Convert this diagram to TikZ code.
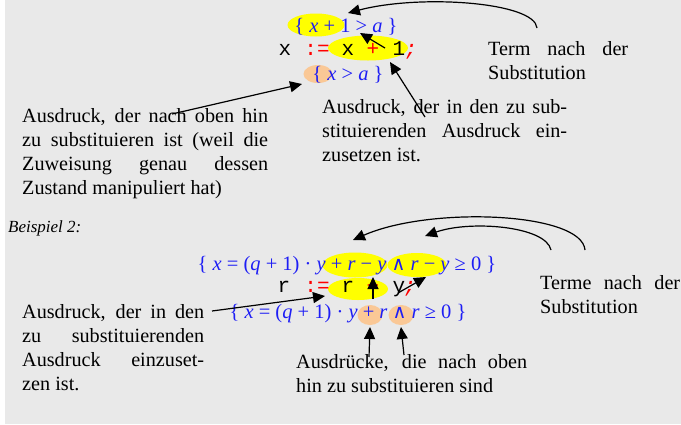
\documentclass[tikz,border=0pt]{standalone}
\usepackage{fontspec}
\setmainfont{Liberation Serif}
\setmonofont{Liberation Mono}
\newfontfamily\symfnt{DejaVu Serif}
\usetikzlibrary{positioning, arrows.meta, shapes.geometric}

\definecolor{bggray}{RGB}{233,233,233}
\definecolor{condblue}{RGB}{30,30,245}
\definecolor{hlyellow}{RGB}{255,255,0}
\definecolor{hlorange}{RGB}{250,200,150}
\definecolor{opred}{RGB}{255,0,0}

\newcommand{\mv}[1]{\textit{#1}}
\newcommand{\mand}{{\symfnt\fontsize{19}{19}\selectfont ∧}}

\begin{document}
\begin{tikzpicture}[
    x=1pt, y=-1pt,
    hl/.style={ellipse, fill=hlyellow, inner sep=0pt},
    hlo/.style={ellipse, fill=hlorange, inner sep=0pt},
    cond/.style={text=condblue, font=\fontsize{20.5}{24}\selectfont,
                 inner sep=0pt, anchor=base},
    code/.style={font=\fontsize{21}{24}\selectfont\ttfamily,
                 inner sep=0pt, anchor=base},
    note/.style={align=justify, inner sep=0pt, anchor=north west,
                 font=\fontsize{20.2}{24}\selectfont},
    arr/.style={-{Triangle[length=12pt, width=11pt]}, line width=1.2pt},
  ]

\useasboundingbox (0,0) rectangle (681,424);
\fill[bggray] (5,0) rectangle (681,424);

% Beispiel 1
\node[hl, minimum width=57pt, minimum height=23pt] (postA) at (316,25) {};
\node[hl, minimum width=80pt, minimum height=25pt] (rhsA) at (368,48) {};
\node[hlo, minimum width=29pt, minimum height=18pt] (preA) at (318,74) {};

\node[cond] (condA1) at (346,32) {\{ \mv{x} + 1 > \mv{a} \}};
\node[code] (lhsA) at (285,55) {x};
\node[code, text=opred] (asgA) at (317,55) {:=};
\node[code] (varA) at (348,55) {x};
\node[code, text=opred] (plusA) at (373,55) {+};
\node[code] (oneA) at (399,55) {1};
\node[code, text=opred] (semA) at (411,55) {\itshape ;};
\node[cond] (condA2) at (348,80) {\{ \mv{x} > \mv{a} \}};

\node[note, text width=140pt] (termA) at (488,41)
    {Term nach der\linebreak Substitution};
\node[note, text width=246pt] (leftA) at (22,108)
    {Ausdruck, der nach oben hin\linebreak zu substituieren ist (weil die\linebreak
     Zuweisung genau dessen\linebreak Zustand manipuliert hat)};
\node[note, text width=245pt] (midA) at (322,99)
    {Ausdruck, der in den zu sub-\linebreak stituierenden Ausdruck ein-\linebreak
     zusetzen ist.};

\coordinate (termA-hook) at (537,28);
\coordinate (postA-in) at (348,13);
\coordinate (oneA-out) at (385,48);
\coordinate (postA-one) at (360,33);
\coordinate (midA-out) at (425,117);
\coordinate (rhsA-in) at (390,62);
\coordinate (leftA-out) at (172,114);
\coordinate (preA-in) at (302,84);

\draw[arr] (termA-hook) .. controls (535,2) and (420,-6) .. (postA-in);
\draw[arr] (oneA-out) -- (postA-one);
\draw[arr] (midA-out) -- (rhsA-in);
\draw[arr] (leftA-out) -- (preA-in);

% Beispiel 2
\node[anchor=base west, inner sep=0pt, font=\fontsize{17}{20}\selectfont\itshape]
    (bspB) at (8,232) {Beispiel 2:};

\node[hl, minimum width=65pt, minimum height=25pt] (postB1) at (355,265) {};
\node[hl, minimum width=59pt, minimum height=24pt] (postB2) at (417,265) {};
\node[hl, minimum width=60pt, minimum height=22pt] (rhsB) at (358,289) {};
\node[hlo, minimum width=25pt, minimum height=20pt] (preB1) at (370,315) {};
\node[hlo, minimum width=25pt, minimum height=20pt] (preB2) at (401,315) {};

\node[cond] (condB1) at (347,270)
    {\{ \mv{x} = (\mv{q} + 1) · \mv{y} + \mv{r} − \mv{y} \mand{} \mv{r} − \mv{y} ≥ 0 \}};
\node[code] (lhsB) at (284,292) {r};
\node[code, text=opred] (asgB) at (317,292) {:=};
\node[code] (varB) at (348,292) {r};
\node[code, text=opred] (plusB) at (373,292) {+};
\node[code] (yB) at (399,292) {y};
\node[code, text=opred] (semB) at (410,292) {\itshape ;};
\node[cond] (condB2) at (348,318)
    {\{ \mv{x} = (\mv{q} + 1) · \mv{y} + \mv{r} \mand{} \mv{r} ≥ 0 \}};

\node[note, text width=140pt] (termB) at (540,275)
    {Terme nach der\linebreak Substitution};
\node[note, text width=182pt] (leftB) at (22,304)
    {Ausdruck, der in den\linebreak zu substituierenden\linebreak Ausdruck einzuset-\linebreak
     zen ist.};
\node[note, text width=231pt] (botB) at (296,354)
    {Ausdrücke, die nach oben\linebreak hin zu substituieren sind};

\coordinate (termB-hook1) at (585,250);
\coordinate (termB-hook2) at (551,250);
\coordinate (postB1-in) at (353,240);
\coordinate (postB2-in) at (425,236);
\coordinate (plusB-out) at (373,299);
\coordinate (postB1-plus) at (373,277);
\coordinate (yB-out) at (398,293);
\coordinate (postB2-y) at (426,277);
\coordinate (leftB-out) at (212,311);
\coordinate (rhsB-in) at (325,296);
\coordinate (botB-out1) at (369,357);
\coordinate (botB-out2) at (404,355);

\draw[arr] (termB-hook1) .. controls (582,212) and (430,206) .. (postB1-in);
\draw[arr] (termB-hook2) .. controls (546,226) and (470,220) .. (postB2-in);
\draw[arr] (plusB-out) -- (postB1-plus);
\draw[arr] (yB-out) -- (postB2-y);
\draw[arr] (leftB-out) -- (rhsB-in);
\draw[arr] (botB-out1) -- (preB1.south |- 0,327);
\draw[arr] (botB-out2) -- (preB2.south |- 0,327);
\end{tikzpicture}
\end{document}
